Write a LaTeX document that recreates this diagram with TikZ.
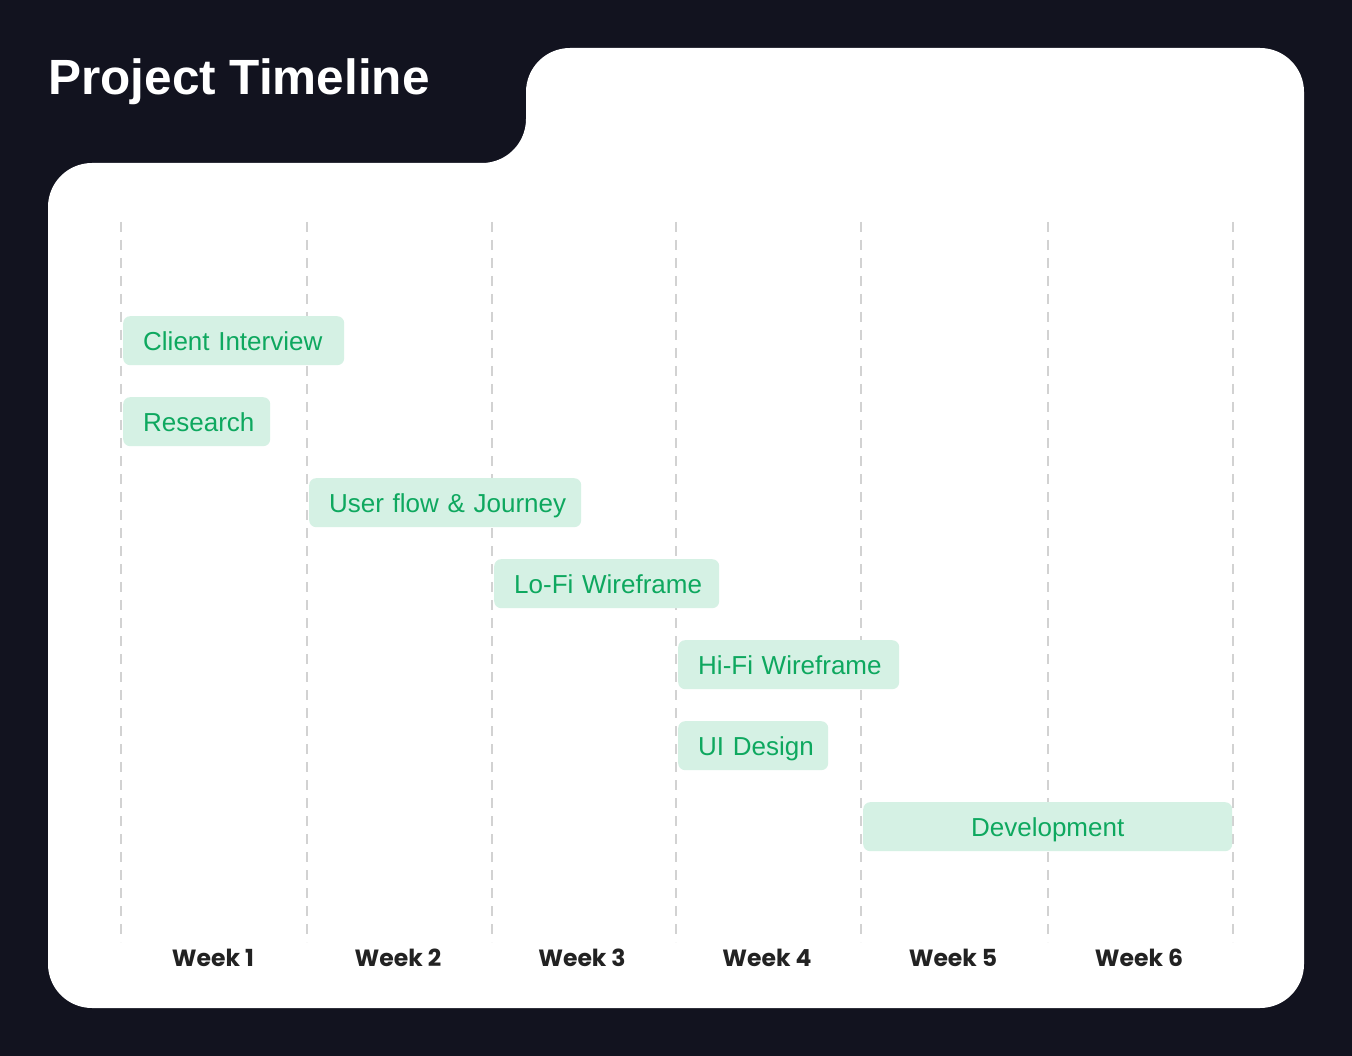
\documentclass[tikz,border=0pt]{standalone}
\usepackage{fontspec}
\setmainfont{Liberation Sans}
\newfontfamily\popfont{Poppins}
\definecolor{darkbg}{HTML}{12131F}
\definecolor{barfill}{HTML}{D5F1E4}
\definecolor{bartext}{HTML}{0EA85F}
\definecolor{gridgray}{HTML}{D2D2D2}
\definecolor{weektext}{HTML}{222222}
\tikzset{
  gridline/.style={draw=gridgray, line width=1.5pt, dash pattern=on 10pt off 8pt},
  bar/.style={fill=barfill, rounded corners=7pt, minimum height=49pt, anchor=north west,
    inner xsep=20pt, inner ysep=0pt, text height=22pt, text depth=3pt,
    font=\fontsize{26}{30}\selectfont, text=bartext, align=left},
  weeklabel/.style={font=\popfont\bfseries\fontsize{23.5}{27}\selectfont, text=weektext, anchor=base},
}
\begin{document}
\begin{tikzpicture}[x=1pt,y=-1pt]
\useasboundingbox (0,0) rectangle (1352,1056);
\fill[darkbg] (0,0) rectangle (1352,1056);
\fill[white, rounded corners=44pt] (300,163) -- (48,163) -- (48,1008) -- (1304,1008) -- (1304,48) -- (526,48) -- (526,163) -- cycle;
\node[anchor=base west, inner sep=0pt, text=white, font=\bfseries\fontsize{49.5}{56}\selectfont] (title) at (48,95) {Project Timeline};
% grid lines
\foreach \x [count=\i] in {121,307,492,676,861,1048,1233} {
  \coordinate (gt\i) at (\x,222);
  \coordinate (gb\i) at (\x,942);
  \draw[gridline] (gt\i) -- (gb\i);
}
% bars
\node[bar, text width=181pt] (ci) at (123,316) {\mbox{Client Interview}};
\node[bar, text width=107pt] (rs) at (123,397) {\mbox{Research}};
\node[bar, text width=232pt] (uf) at (309,478) {\mbox{User flow \& Journey}};
\node[bar, text width=185pt] (lf) at (494,559) {\mbox{Lo-Fi Wireframe}};
\node[bar, text width=181pt] (hf) at (678,640) {\mbox{Hi-Fi Wireframe}};
\node[bar, text width=110pt] (ui) at (678,721) {\mbox{UI Design}};
\node[bar, text width=329pt, align=center] (dev) at (863,802) {Development};
% week labels
\node[weeklabel] (w1) at (213,966) {Week 1};
\node[weeklabel] (w2) at (398,966) {Week 2};
\node[weeklabel] (w3) at (582,966) {Week 3};
\node[weeklabel] (w4) at (767,966) {Week 4};
\node[weeklabel] (w5) at (953,966) {Week 5};
\node[weeklabel] (w6) at (1139,966) {Week 6};
\end{tikzpicture}
\end{document}
